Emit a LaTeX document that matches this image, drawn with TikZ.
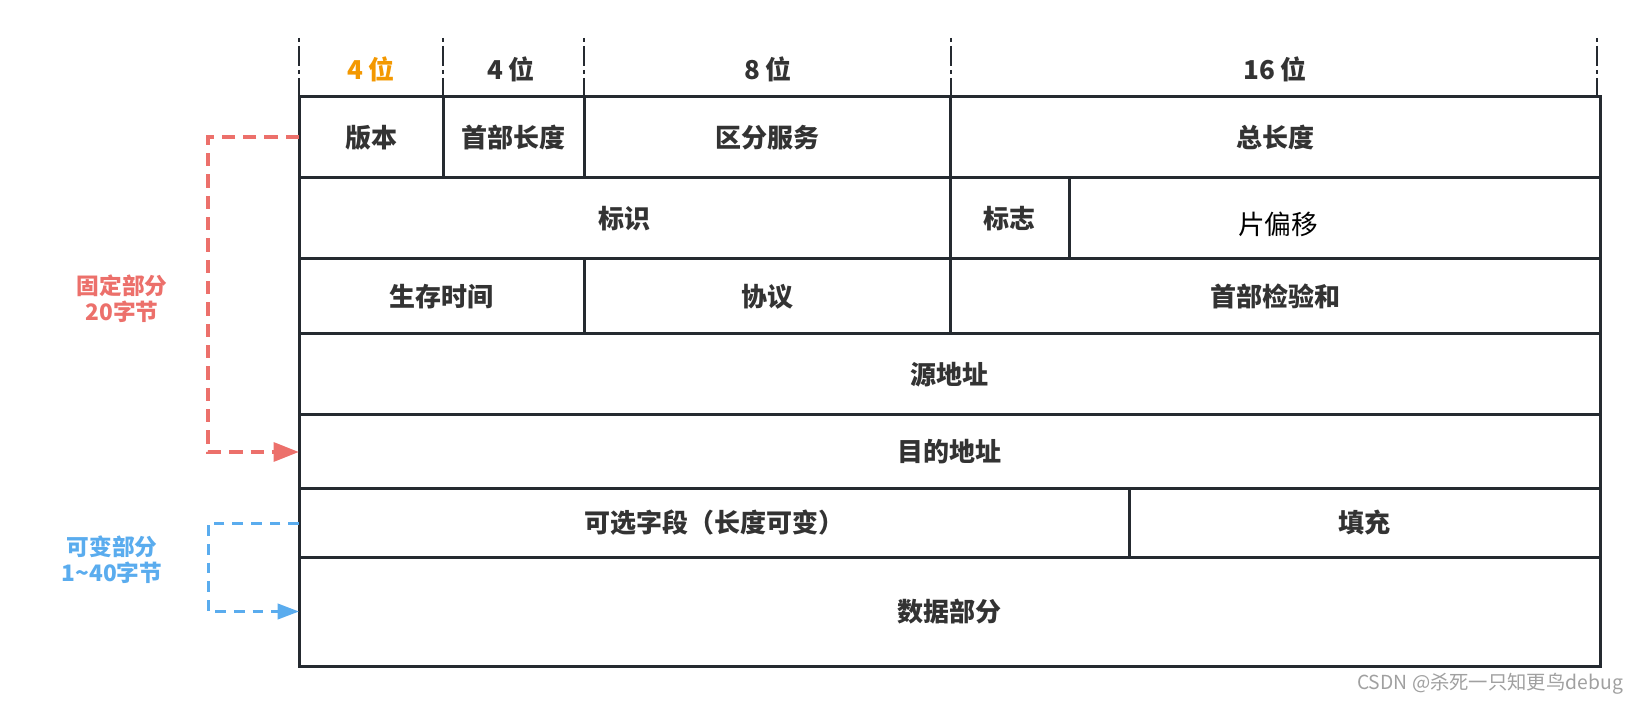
\documentclass[tikz,border=0pt]{standalone}
\usepackage{fontspec}
\newfontfamily\cjk{Noto Sans CJK SC}
\usetikzlibrary{arrows.meta}

\definecolor{framegray}{RGB}{37,42,48}
\definecolor{textgray}{RGB}{51,51,51}
\definecolor{bitorange}{RGB}{243,152,0}
\definecolor{fixred}{RGB}{236,112,107}
\definecolor{varblue}{RGB}{90,172,238}
\definecolor{markgray}{RGB}{160,160,160}

\tikzset{every picture/.style={line width=0.75pt}}
\tikzset{
  field/.style={draw=framegray, line width=2.25pt, inner sep=0pt, outer sep=0pt, text=textgray, font=\cjk\bfseries\fontsize{19.5}{23}\selectfont},
  bitlabel/.style={inner sep=0.75pt, text=textgray, font=\cjk\bfseries\fontsize{19.5}{23}\selectfont},
  bitmark/.style={draw=framegray, line width=1.8pt, dash pattern=on 3pt off 3pt on 15pt off 3pt},
  sidelabel/.style={inner sep=0.75pt, align=center, font=\cjk\bfseries\fontsize{17}{19.5}\selectfont},
  fixline/.style={draw=fixred, line width=3pt, dash pattern=on 10pt off 6pt, -{Triangle[length=19pt,width=14pt]}},
  varline/.style={draw=varblue, line width=2.25pt, dash pattern=on 8pt off 6pt, -{Triangle[length=16pt,width=11.5pt]}}
}

\begin{document}
\begin{tikzpicture}[x=0.75pt,y=0.75pt,yscale=-1,xscale=1]
\useasboundingbox (0,0) rectangle (1638,705);

%Bit width marks
\draw [bitmark] (299,38) -- (299,97);
\draw [bitmark] (443,38) -- (443,97);
\draw [bitmark] (584,38) -- (584,97);
\draw [bitmark] (951,38) -- (951,97);
\draw [bitmark] (1597,38) -- (1597,97);

% Text Node
\node [bitlabel, text=bitorange] (bitver) at (371,69) {4 位};
% Text Node
\node [bitlabel] (bitihl) at (511,69) {4 位};
% Text Node
\node [bitlabel] (bittos) at (768,69) {8 位};
% Text Node
\node [bitlabel] (bitlen) at (1275,69) {16 位};

%Row 1
\node [field, minimum width=108pt, minimum height=60.75pt] (ver) at (371,137.5) {版本};
\node [field, minimum width=105.75pt, minimum height=60.75pt] (ihl) at (513.5,137.5) {首部长度};
\node [field, minimum width=274.5pt, minimum height=60.75pt] (tos) at (767,137.5) {区分服务};
\node [field, minimum width=487.5pt, minimum height=60.75pt] (totlen) at (1275,137.5) {总长度};
%Row 2
\node [field, minimum width=488.25pt, minimum height=60.75pt] (ident) at (624.5,218.5) {标识};
\node [field, minimum width=89.25pt, minimum height=60.75pt] (flags) at (1009.5,218.5) {标志};
\node [field, minimum width=398.25pt, minimum height=60.75pt] (fragoff) at (1334.5,218.5) {};
\node [inner sep=0.75pt, text=black, font=\cjk\fontsize{20}{24}\selectfont] (fragtext) at (1278,224) {片偏移};
%Row 3
\node [field, minimum width=213.75pt, minimum height=56.25pt] (ttl) at (441.5,296.5) {生存时间};
\node [field, minimum width=274.5pt, minimum height=56.25pt] (proto) at (767,296.5) {协议};
\node [field, minimum width=487.5pt, minimum height=56.25pt] (hdrsum) at (1275,296.5) {首部检验和};
%Row 4 and 5
\node [field, minimum width=975.75pt, minimum height=60.75pt] (src) at (949.5,374.5) {源地址};
\node [field, minimum width=975.75pt, minimum height=55.5pt] (dst) at (949.5,452) {目的地址};
%Row 6
\node [field, minimum width=622.5pt, minimum height=51pt] (opts) at (714,523) {可选字段（长度可变）};
\node [field, minimum width=353.25pt, minimum height=51pt] (pad) at (1364.5,523) {填充};
%Row 7
\node [field, minimum width=975.75pt, minimum height=81.75pt] (data) at (949.5,611.5) {数据部分};

% Text Node
\node [sidelabel, text=fixred] (fixpart) at (122,299) {固定部分\\20字节};
% Text Node
\node [sidelabel, text=varblue] (varpart) at (112,560) {可变部分\\1\textasciitilde 40字节};

% Connection
\draw [fixline] (ver.west) -- ++(-91,0) |- (dst.west);
% Connection
\draw [varline] (opts.west) -- ++(-91,0) |- (data.west);

% Text Node
\node [inner sep=0.75pt, text=markgray, font=\cjk\fontsize{14.5}{17}\selectfont] (mark) at (1490,684) {CSDN @杀死一只知更鸟debug};

\end{tikzpicture}
\end{document}
